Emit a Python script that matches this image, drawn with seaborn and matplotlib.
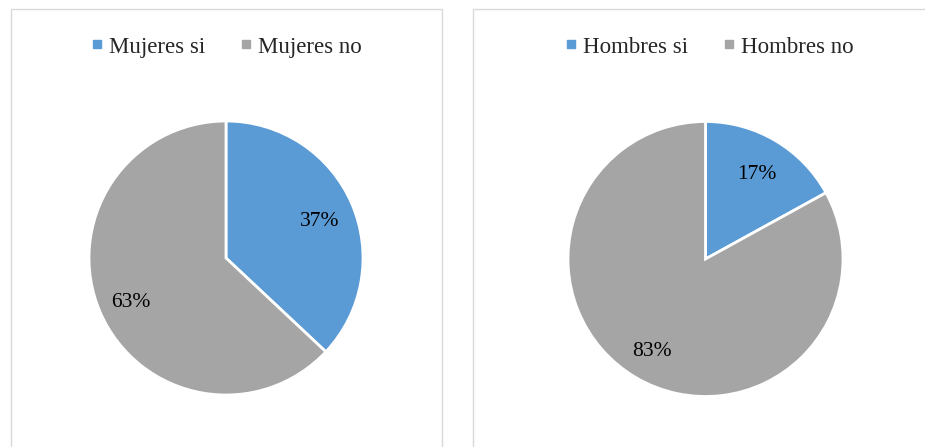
import matplotlib
matplotlib.use("Agg")
import matplotlib.pyplot as plt
import matplotlib.transforms as mtransforms
from matplotlib.lines import Line2D
from matplotlib.patches import Rectangle
import seaborn as sns

# Survey answers, in percent
mujeres_labels = ["Mujeres si", "Mujeres no"]
mujeres_values = [37, 63]
hombres_labels = ["Hombres si", "Hombres no"]
hombres_values = [17, 83]
slice_colors = ["#5B9BD5", "#A5A5A5"]

sns.set_theme(style="white")
plt.rcParams["font.family"] = ["Liberation Serif", "DejaVu Serif"]

W, H = 925, 447
fig = plt.figure(figsize=(W / 100, H / 100), dpi=100)
fig.patch.set_facecolor("white")


def px_box(x0, y0, w, h):
    """Convert a pixel box (top-left origin) into figure fractions."""
    return [x0 / W, 1 - (y0 + h) / H, w / W, h / H]


# Chart frames
for x0, x1 in [(10.5, 441.5), (472.5, 940)]:
    fig.add_artist(Rectangle((x0 / W, -0.1), (x1 - x0) / W, 1 - 8.5 / H + 0.1,
                             transform=fig.transFigure, fill=False,
                             edgecolor="#D9D9D9", linewidth=1.0))


def draw_pie(cx, cy, r, values, labels, legend_cx):
    ax = fig.add_axes(px_box(cx - r, cy - r, 2 * r, 2 * r))
    wedges, _, autotexts = ax.pie(
        values, colors=slice_colors, startangle=90, counterclock=False,
        autopct="%.0f%%", pctdistance=0.75,
        wedgeprops=dict(edgecolor="white", linewidth=2.0),
        textprops=dict(fontsize=15.5, color="black"),
    )
    # nudge the percentage labels slightly down so the digits sit centred
    for t in autotexts:
        t.set_transform(mtransforms.offset_copy(t.get_transform(), fig=fig,
                                                x=-1, y=-4, units="dots"))
    ax.set_xlim(-1, 1)
    ax.set_ylim(-1, 1)
    ax.set_aspect("equal")
    ax.axis("off")
    handles = [Line2D([], [], marker="s", linestyle="none", markersize=5.2,
                      markerfacecolor=c, markeredgecolor=c) for c in slice_colors]
    fig.legend(handles, labels, loc="center", ncol=2,
               bbox_to_anchor=(legend_cx / W, 1 - 47 / H),
               frameon=False, fontsize=16.5, handlelength=0.4,
               handletextpad=0.35, columnspacing=1.55, borderpad=0)
    return ax


draw_pie(226, 258, 137, mujeres_values, mujeres_labels, 227)
draw_pie(705.5, 259, 137.5, hombres_values, hombres_labels, 710)

fig.savefig("out.png", dpi=100, facecolor="white")
